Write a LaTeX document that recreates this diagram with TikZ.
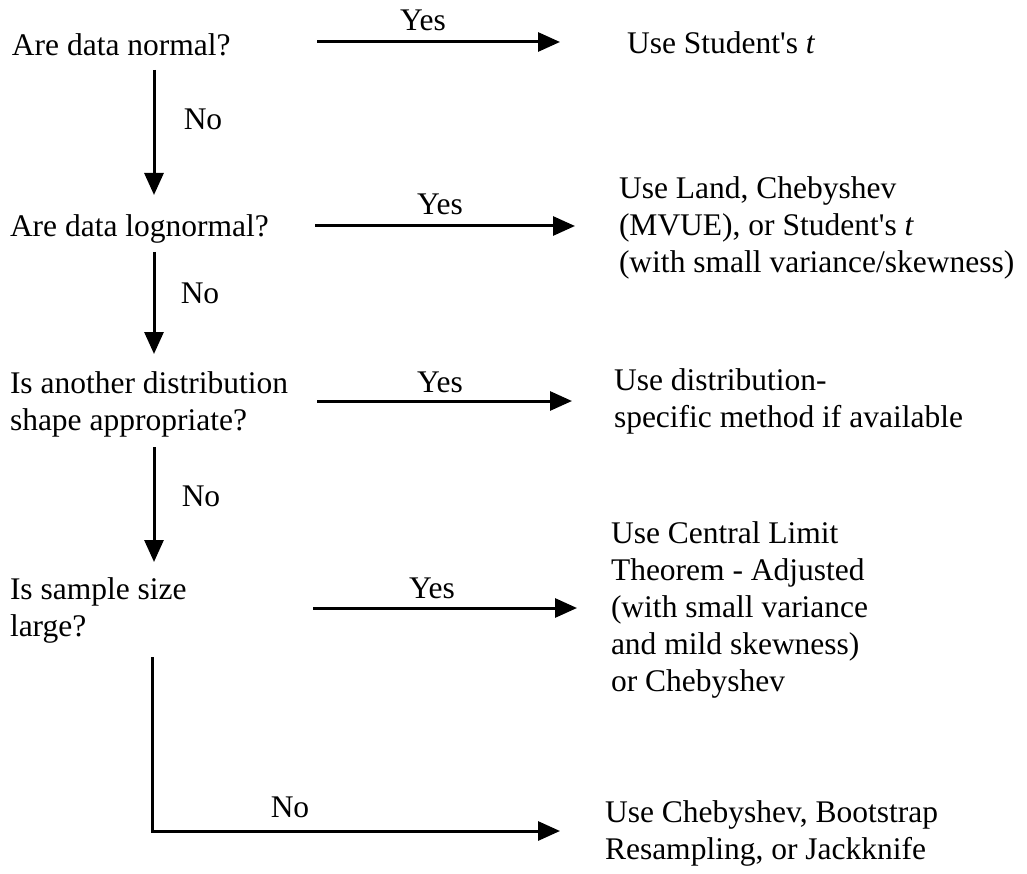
\documentclass[tikz,border=0pt]{standalone}
\usepackage{fontspec}
\setmainfont{Liberation Serif}[Ligatures=TeXOff]
\usetikzlibrary{arrows.meta}
\begin{document}
\begin{tikzpicture}[x=1pt,y=-1pt,
  txt/.style={inner sep=0pt,outer sep=0pt,anchor=west,align=left,font=\fontsize{31.5}{37}\selectfont},
  lbl/.style={inner sep=0pt,outer sep=0pt,font=\fontsize{31.5}{37}\selectfont},
  arr/.style={line width=3pt,-{Triangle[length=22pt,width=19pt]}},
  ln/.style={line width=3pt}]
\useasboundingbox[fill=white] (0,0) rectangle (1027,874);
% questions
\node[txt] (q1) at (12,45) {Are data normal?};
\node[txt] (q2) at (10,229) {Are data lognormal?};
\node[txt] (q3) at (10,404) {Is another distribution\\shape appropriate?};
\node[txt] (q4) at (10,610) {Is sample size\\large?};
% answers
\node[txt] (r1) at (627,43) {Use Student's \textit{t}};
\node[txt] (r2) at (619,228) {Use Land, Chebyshev\\(MVUE), or Student's \textit{t}\\(with small variance/skewness)};
\node[txt] (r3) at (614,401) {Use distribution-\\specific method if available};
\node[txt] (r4) at (611,610) {Use Central Limit\\Theorem - Adjusted\\(with small variance\\and mild skewness)\\or Chebyshev};
\node[txt] (r5) at (605,833) {Use Chebyshev, Bootstrap\\Resampling, or Jackknife};
% connector end points
\coordinate (h1s) at (317,42);  \coordinate (h1e) at (560,42);
\coordinate (h2s) at (315,226); \coordinate (h2e) at (575,226);
\coordinate (h3s) at (317,401); \coordinate (h3e) at (572,401);
\coordinate (h4s) at (313,608); \coordinate (h4e) at (577,608);
\coordinate (v1s) at (154,70);  \coordinate (v1e) at (154,195);
\coordinate (v2s) at (154,252); \coordinate (v2e) at (154,354);
\coordinate (v3s) at (154,447); \coordinate (v3e) at (154,562);
\coordinate (v4s) at (152,657); \coordinate (v4c) at (152,831);
\coordinate (v4e) at (560,831);
% yes arrows
\draw[arr] (h1s) -- (h1e);
\draw[arr] (h2s) -- (h2e);
\draw[arr] (h3s) -- (h3e);
\draw[arr] (h4s) -- (h4e);
\node[lbl] (y1) at (423,20) {Yes};
\node[lbl] (y2) at (440,204) {Yes};
\node[lbl] (y3) at (440,382) {Yes};
\node[lbl] (y4) at (432,588) {Yes};
% no arrows
\draw[arr] (v1s) -- (v1e);
\draw[arr] (v2s) -- (v2e);
\draw[arr] (v3s) -- (v3e);
\draw[arr] (v4s) -- (v4c) -- (v4e);
\node[lbl] (n1) at (203,119) {No};
\node[lbl] (n2) at (200,293) {No};
\node[lbl] (n3) at (201,496) {No};
\node[lbl] (n4) at (290,807) {No};
\end{tikzpicture}
\end{document}
